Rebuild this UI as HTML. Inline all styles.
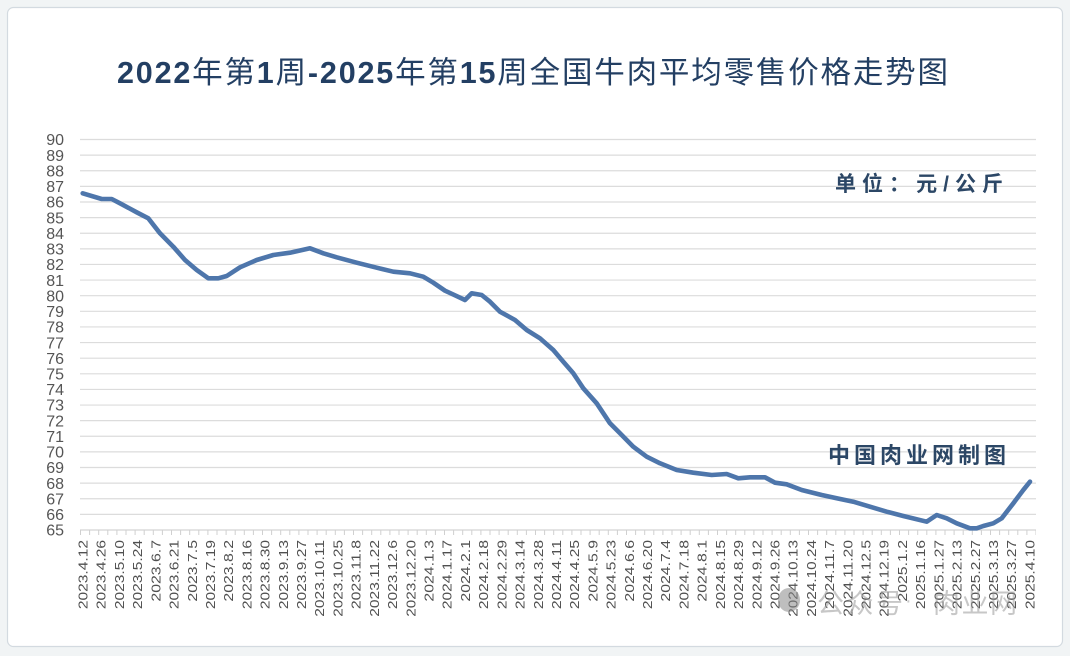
<!DOCTYPE html>
<html>
<head>
<meta charset="utf-8">
<style>
html,body{margin:0;padding:0;background:#f1f4f5;}
svg{display:block;}
text{font-family:"Liberation Sans","Noto Sans CJK SC",sans-serif;}
</style>
</head>
<body>
<svg width="1070" height="656" viewBox="0 0 1070 656" xmlns="http://www.w3.org/2000/svg">
<rect x="7.5" y="7.5" width="1055" height="639" rx="6" fill="#ffffff" stroke="#d3dae0" stroke-width="1.2"/>

<!-- Title -->
<text x="117" y="83" font-size="30.5" fill="#233f63" textLength="831" lengthAdjust="spacing"><tspan font-weight="bold">2022</tspan><tspan>年第</tspan><tspan font-weight="bold">1</tspan><tspan>周</tspan><tspan font-weight="bold">-2025</tspan><tspan>年第</tspan><tspan font-weight="bold">15</tspan><tspan>周全国牛肉平均零售价格走势图</tspan></text>

<!-- gridlines -->
<g stroke="#dcdcdc" stroke-width="1.2">
<line x1="80" y1="514.38" x2="1036" y2="514.38"/>
<line x1="80" y1="498.76" x2="1036" y2="498.76"/>
<line x1="80" y1="483.14" x2="1036" y2="483.14"/>
<line x1="80" y1="467.52" x2="1036" y2="467.52"/>
<line x1="80" y1="451.9" x2="1036" y2="451.9"/>
<line x1="80" y1="436.28" x2="1036" y2="436.28"/>
<line x1="80" y1="420.66" x2="1036" y2="420.66"/>
<line x1="80" y1="405.04" x2="1036" y2="405.04"/>
<line x1="80" y1="389.42" x2="1036" y2="389.42"/>
<line x1="80" y1="373.8" x2="1036" y2="373.8"/>
<line x1="80" y1="358.18" x2="1036" y2="358.18"/>
<line x1="80" y1="342.56" x2="1036" y2="342.56"/>
<line x1="80" y1="326.94" x2="1036" y2="326.94"/>
<line x1="80" y1="311.32" x2="1036" y2="311.32"/>
<line x1="80" y1="295.7" x2="1036" y2="295.7"/>
<line x1="80" y1="280.08" x2="1036" y2="280.08"/>
<line x1="80" y1="264.46" x2="1036" y2="264.46"/>
<line x1="80" y1="248.84" x2="1036" y2="248.84"/>
<line x1="80" y1="233.22" x2="1036" y2="233.22"/>
<line x1="80" y1="217.6" x2="1036" y2="217.6"/>
<line x1="80" y1="201.98" x2="1036" y2="201.98"/>
<line x1="80" y1="186.36" x2="1036" y2="186.36"/>
<line x1="80" y1="170.74" x2="1036" y2="170.74"/>
<line x1="80" y1="155.12" x2="1036" y2="155.12"/>
<line x1="80" y1="139.5" x2="1036" y2="139.5"/>
</g>
<!-- x axis -->
<line x1="80" y1="530" x2="1036" y2="530" stroke="#d4d4d4" stroke-width="1.2"/>
<line x1="80" y1="532.5" x2="1036" y2="532.5" stroke="#d0d0d0" stroke-width="5" stroke-dasharray="1 8.1"/>

<!-- y labels -->
<g font-size="16" fill="#555555" text-anchor="end">
<text x="64" y="535.7">65</text>
<text x="64" y="520.1">66</text>
<text x="64" y="504.5">67</text>
<text x="64" y="488.8">68</text>
<text x="64" y="473.2">69</text>
<text x="64" y="457.6">70</text>
<text x="64" y="442">71</text>
<text x="64" y="426.4">72</text>
<text x="64" y="410.7">73</text>
<text x="64" y="395.1">74</text>
<text x="64" y="379.5">75</text>
<text x="64" y="363.9">76</text>
<text x="64" y="348.3">77</text>
<text x="64" y="332.6">78</text>
<text x="64" y="317">79</text>
<text x="64" y="301.4">80</text>
<text x="64" y="285.8">81</text>
<text x="64" y="270.2">82</text>
<text x="64" y="254.5">83</text>
<text x="64" y="238.9">84</text>
<text x="64" y="223.3">85</text>
<text x="64" y="207.7">86</text>
<text x="64" y="192.1">87</text>
<text x="64" y="176.4">88</text>
<text x="64" y="160.8">89</text>
<text x="64" y="145.2">90</text>
</g>

<!-- x labels -->
<g font-size="12.5" fill="#505050">
<text transform="translate(87.5,540) rotate(-90)" x="-69.2" textLength="69.2" lengthAdjust="spacingAndGlyphs">2023.4.12</text>
<text transform="translate(105.7,540) rotate(-90)" x="-69.2" textLength="69.2" lengthAdjust="spacingAndGlyphs">2023.4.26</text>
<text transform="translate(123.9,540) rotate(-90)" x="-69.2" textLength="69.2" lengthAdjust="spacingAndGlyphs">2023.5.10</text>
<text transform="translate(142.1,540) rotate(-90)" x="-69.2" textLength="69.2" lengthAdjust="spacingAndGlyphs">2023.5.24</text>
<text transform="translate(160.3,540) rotate(-90)" x="-61.6" textLength="61.6" lengthAdjust="spacingAndGlyphs">2023.6.7</text>
<text transform="translate(178.6,540) rotate(-90)" x="-69.2" textLength="69.2" lengthAdjust="spacingAndGlyphs">2023.6.21</text>
<text transform="translate(196.8,540) rotate(-90)" x="-61.6" textLength="61.6" lengthAdjust="spacingAndGlyphs">2023.7.5</text>
<text transform="translate(215,540) rotate(-90)" x="-69.2" textLength="69.2" lengthAdjust="spacingAndGlyphs">2023.7.19</text>
<text transform="translate(233.2,540) rotate(-90)" x="-61.6" textLength="61.6" lengthAdjust="spacingAndGlyphs">2023.8.2</text>
<text transform="translate(251.4,540) rotate(-90)" x="-69.2" textLength="69.2" lengthAdjust="spacingAndGlyphs">2023.8.16</text>
<text transform="translate(269.6,540) rotate(-90)" x="-69.2" textLength="69.2" lengthAdjust="spacingAndGlyphs">2023.8.30</text>
<text transform="translate(287.8,540) rotate(-90)" x="-69.2" textLength="69.2" lengthAdjust="spacingAndGlyphs">2023.9.13</text>
<text transform="translate(306,540) rotate(-90)" x="-69.2" textLength="69.2" lengthAdjust="spacingAndGlyphs">2023.9.27</text>
<text transform="translate(324.2,540) rotate(-90)" x="-76.8" textLength="76.8" lengthAdjust="spacingAndGlyphs">2023.10.11</text>
<text transform="translate(342.4,540) rotate(-90)" x="-76.8" textLength="76.8" lengthAdjust="spacingAndGlyphs">2023.10.25</text>
<text transform="translate(360.7,540) rotate(-90)" x="-69.2" textLength="69.2" lengthAdjust="spacingAndGlyphs">2023.11.8</text>
<text transform="translate(378.9,540) rotate(-90)" x="-76.8" textLength="76.8" lengthAdjust="spacingAndGlyphs">2023.11.22</text>
<text transform="translate(397.1,540) rotate(-90)" x="-69.2" textLength="69.2" lengthAdjust="spacingAndGlyphs">2023.12.6</text>
<text transform="translate(415.3,540) rotate(-90)" x="-76.8" textLength="76.8" lengthAdjust="spacingAndGlyphs">2023.12.20</text>
<text transform="translate(433.5,540) rotate(-90)" x="-61.6" textLength="61.6" lengthAdjust="spacingAndGlyphs">2024.1.3</text>
<text transform="translate(451.7,540) rotate(-90)" x="-69.2" textLength="69.2" lengthAdjust="spacingAndGlyphs">2024.1.17</text>
<text transform="translate(469.9,540) rotate(-90)" x="-61.6" textLength="61.6" lengthAdjust="spacingAndGlyphs">2024.2.1</text>
<text transform="translate(488.1,540) rotate(-90)" x="-69.2" textLength="69.2" lengthAdjust="spacingAndGlyphs">2024.2.18</text>
<text transform="translate(506.3,540) rotate(-90)" x="-69.2" textLength="69.2" lengthAdjust="spacingAndGlyphs">2024.2.29</text>
<text transform="translate(524.5,540) rotate(-90)" x="-69.2" textLength="69.2" lengthAdjust="spacingAndGlyphs">2024.3.14</text>
<text transform="translate(542.8,540) rotate(-90)" x="-69.2" textLength="69.2" lengthAdjust="spacingAndGlyphs">2024.3.28</text>
<text transform="translate(561,540) rotate(-90)" x="-69.2" textLength="69.2" lengthAdjust="spacingAndGlyphs">2024.4.11</text>
<text transform="translate(579.2,540) rotate(-90)" x="-69.2" textLength="69.2" lengthAdjust="spacingAndGlyphs">2024.4.25</text>
<text transform="translate(597.4,540) rotate(-90)" x="-61.6" textLength="61.6" lengthAdjust="spacingAndGlyphs">2024.5.9</text>
<text transform="translate(615.6,540) rotate(-90)" x="-69.2" textLength="69.2" lengthAdjust="spacingAndGlyphs">2024.5.23</text>
<text transform="translate(633.8,540) rotate(-90)" x="-61.6" textLength="61.6" lengthAdjust="spacingAndGlyphs">2024.6.6</text>
<text transform="translate(652,540) rotate(-90)" x="-69.2" textLength="69.2" lengthAdjust="spacingAndGlyphs">2024.6.20</text>
<text transform="translate(670.2,540) rotate(-90)" x="-61.6" textLength="61.6" lengthAdjust="spacingAndGlyphs">2024.7.4</text>
<text transform="translate(688.4,540) rotate(-90)" x="-69.2" textLength="69.2" lengthAdjust="spacingAndGlyphs">2024.7.18</text>
<text transform="translate(706.6,540) rotate(-90)" x="-61.6" textLength="61.6" lengthAdjust="spacingAndGlyphs">2024.8.1</text>
<text transform="translate(724.9,540) rotate(-90)" x="-69.2" textLength="69.2" lengthAdjust="spacingAndGlyphs">2024.8.15</text>
<text transform="translate(743.1,540) rotate(-90)" x="-69.2" textLength="69.2" lengthAdjust="spacingAndGlyphs">2024.8.29</text>
<text transform="translate(761.3,540) rotate(-90)" x="-69.2" textLength="69.2" lengthAdjust="spacingAndGlyphs">2024.9.12</text>
<text transform="translate(779.5,540) rotate(-90)" x="-69.2" textLength="69.2" lengthAdjust="spacingAndGlyphs">2024.9.26</text>
<text transform="translate(797.7,540) rotate(-90)" x="-76.8" textLength="76.8" lengthAdjust="spacingAndGlyphs">2024.10.13</text>
<text transform="translate(815.9,540) rotate(-90)" x="-76.8" textLength="76.8" lengthAdjust="spacingAndGlyphs">2024.10.24</text>
<text transform="translate(834.1,540) rotate(-90)" x="-69.2" textLength="69.2" lengthAdjust="spacingAndGlyphs">2024.11.7</text>
<text transform="translate(852.3,540) rotate(-90)" x="-76.8" textLength="76.8" lengthAdjust="spacingAndGlyphs">2024.11.20</text>
<text transform="translate(870.5,540) rotate(-90)" x="-69.2" textLength="69.2" lengthAdjust="spacingAndGlyphs">2024.12.5</text>
<text transform="translate(888.7,540) rotate(-90)" x="-76.8" textLength="76.8" lengthAdjust="spacingAndGlyphs">2024.12.19</text>
<text transform="translate(907,540) rotate(-90)" x="-61.6" textLength="61.6" lengthAdjust="spacingAndGlyphs">2025.1.2</text>
<text transform="translate(925.2,540) rotate(-90)" x="-69.2" textLength="69.2" lengthAdjust="spacingAndGlyphs">2025.1.16</text>
<text transform="translate(943.4,540) rotate(-90)" x="-69.2" textLength="69.2" lengthAdjust="spacingAndGlyphs">2025.1.27</text>
<text transform="translate(961.6,540) rotate(-90)" x="-69.2" textLength="69.2" lengthAdjust="spacingAndGlyphs">2025.2.13</text>
<text transform="translate(979.8,540) rotate(-90)" x="-69.2" textLength="69.2" lengthAdjust="spacingAndGlyphs">2025.2.27</text>
<text transform="translate(998,540) rotate(-90)" x="-69.2" textLength="69.2" lengthAdjust="spacingAndGlyphs">2025.3.13</text>
<text transform="translate(1016.2,540) rotate(-90)" x="-69.2" textLength="69.2" lengthAdjust="spacingAndGlyphs">2025.3.27</text>
<text transform="translate(1034.4,540) rotate(-90)" x="-69.2" textLength="69.2" lengthAdjust="spacingAndGlyphs">2025.4.10</text>
</g>

<!-- data line -->
<polyline fill="none" stroke="#4e76ab" stroke-width="4.6" stroke-linejoin="round" stroke-linecap="round"
points="82.7,193.3 101.7,199 111.7,199 120,203.3 136.7,212.3 148.3,218.3 160,233.3 173.3,246.7 185,260 196.7,270 208.3,278.3 218.3,278.3 226.7,276 240,267.3 256.7,260 273.3,255 290,252.7 310,248.3 323.3,253.3 336.7,257.3 356.7,262.7 376.7,267.7 393.3,271.7 410,273.3 423.3,276.7 433.3,282.7 445,290.7 455,295.3 465,300 471.7,293.3 481.7,295 490,301.7 500,311.7 515,320 526.7,330 540,338.3 553.3,350 563.3,361.7 573.3,373.3 583.3,388.3 596.7,403.3 610,423.3 620,433.3 633.3,446.7 646.7,456.7 660,463.3 676.7,470 693.3,472.7 711.7,475 726.7,474 738.3,478.3 750,477.3 765,477.3 775,482.7 786.7,484.3 801.7,490 821.7,495 836.7,498.3 853.3,501.7 870,506.7 886.7,511.7 903.3,516 926.7,521.7 936.7,515 946.7,518.3 956.7,523.3 970,528.3 976.7,528.3 983.3,526 993.3,523.3 1001.7,518.3 1013.3,503.3 1023.3,490 1030,481.7"/>

<!-- annotations -->
<text x="835" y="191" font-size="21" font-weight="bold" fill="#2c4766" textLength="168" lengthAdjust="spacing">单位：元/公斤</text>
<text x="828" y="463" font-size="22" font-weight="bold" fill="#2c4766" textLength="178" lengthAdjust="spacing">中国肉业网制图</text>

<!-- watermark -->
<g opacity="0.55">
<ellipse cx="789" cy="600" rx="11" ry="12" fill="#8a8a8a"/>
<text x="817" y="613" font-size="27" fill="#9a9a9a" textLength="86" lengthAdjust="spacing">公众号</text>
<text x="905" y="607" font-size="20" fill="#9a9a9a">·</text>
<text x="933" y="613" font-size="27" fill="#9a9a9a" textLength="84" lengthAdjust="spacing">肉业网</text>
</g>
</svg>
</body>
</html>
